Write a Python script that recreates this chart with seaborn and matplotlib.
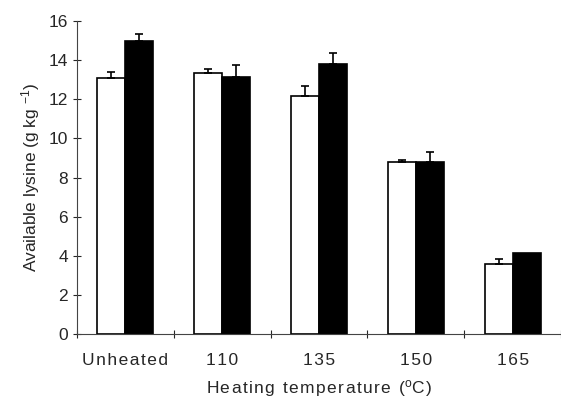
import numpy as np
import pandas as pd
import matplotlib
matplotlib.use("Agg")
import matplotlib.pyplot as plt
import seaborn as sns

# data
temperatures = ["Unheated", "110", "135", "150", "165"]
white_means = [13.1, 13.35, 12.15, 8.8, 3.6]
white_errs = [0.3, 0.2, 0.55, 0.1, 0.25]
black_means = [15.0, 13.15, 13.8, 8.8, 4.15]
black_errs = [0.35, 0.6, 0.55, 0.5, 0.0]
groups = ["A", "B"]

data = pd.DataFrame({
    "temp": temperatures * 2,
    "lysine": white_means + black_means,
    "err": white_errs + black_errs,
    "group": [groups[0]] * 5 + [groups[1]] * 5,
})


def spaced(s):
    # loose letter spacing like the original figure
    return "\u200a".join(s)


sns.set_style("ticks")
plt.rcParams["font.family"] = ["Liberation Sans", "DejaVu Sans"]
plt.rcParams["mathtext.default"] = "regular"

fig = plt.figure(figsize=(5.61, 3.98), dpi=100)
ax = fig.add_axes([0.137, 0.161, 0.863, 0.786])

sns.barplot(
    data=data, x="temp", y="lysine", hue="group",
    order=temperatures, hue_order=groups,
    palette={"A": "white", "B": "black"},
    edgecolor="black", linewidth=1.2, width=0.58,
    errorbar=None, legend=False, ax=ax
)

# one-sided error bars on top of each bar
bars = [p for p in ax.patches if p.get_height() > 0]
for i, bar in enumerate(bars):
    err = data["err"].iloc[i]
    if err > 0:
        ax.errorbar(
            bar.get_x() + bar.get_width() / 2, bar.get_height(),
            yerr=[[0], [err]], fmt="none", ecolor="black",
            elinewidth=1.2, capsize=3, capthick=1.2
        )

ax.set_ylim(0, 16)
ax.set_yticks(np.arange(0, 17, 2))
ax.set_xlim(-0.5, 4.5)
ax.set_xticks(range(len(temperatures)))
ax.set_xticklabels([spaced(t) for t in temperatures])
ax.set_xticks(np.arange(-0.5, 5, 1), minor=True)
ax.tick_params(axis="x", which="major", length=0, labelsize=12.5, pad=14)
ax.tick_params(axis="x", which="minor", length=6, direction="inout", width=0.8)
ax.tick_params(axis="y", length=6, direction="inout", width=0.8, labelsize=12.5)

sns.despine(ax=ax)
for s in ["left", "bottom"]:
    ax.spines[s].set_linewidth(0.8)
    ax.spines[s].set_color("#444444")

ax.set_xlabel(spaced("Heating temperature (") + "$^{o}$" + spaced("C)"),
              fontsize=12.5, labelpad=7)
ax.set_ylabel("Available lysine (g kg $^{-1}$)", fontsize=12.5, labelpad=5)

plt.savefig("out.png", dpi=100)
